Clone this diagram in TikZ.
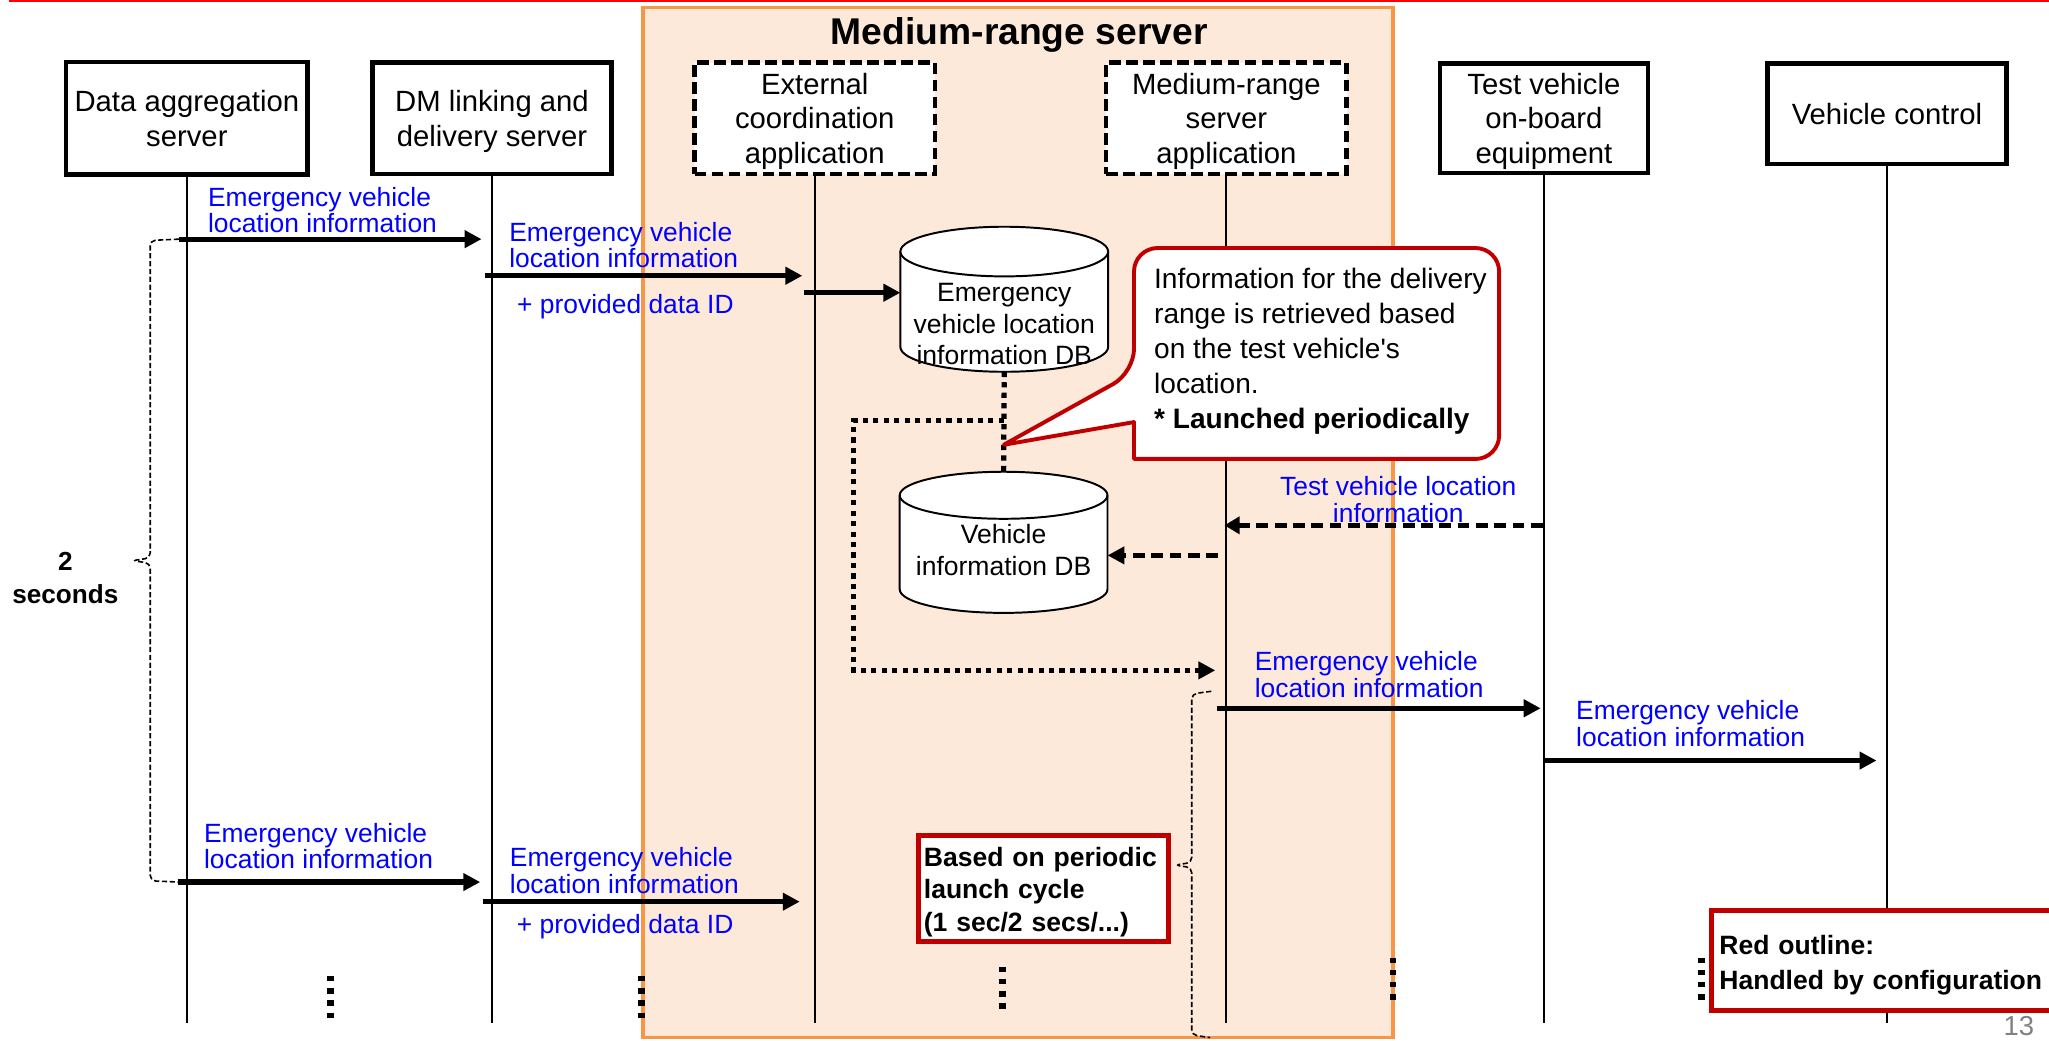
\documentclass[tikz,border=0pt]{standalone}
\usepackage{fontspec}
\setmainfont{Liberation Sans}[Ligatures=TeXOff]
\usepackage{xcolor}
\usepackage{tikz}
\usetikzlibrary{shapes,arrows.meta,positioning,calc}

\definecolor{srvorange}{HTML}{F79646}
\definecolor{srvfill}{HTML}{FDE9D9}
\definecolor{cfgred}{HTML}{C00000}

\begin{document}
\begin{tikzpicture}[
    x=1pt, y=-1pt,
    box/.style={rectangle, draw, line width=3.5pt, fill=white, align=center, text depth=0pt, font={\fontsize{22.4}{26.5}\selectfont}},
    appbox/.style={box, dash pattern=on 9pt off 4pt},
    db/.style={rectangle, inner sep=0pt, outer sep=0pt, minimum width=159pt, minimum height=111pt},
    dbline/.style={draw, line width=1.5pt},
    dbtext/.style={align=center, inner sep=0pt, font={\fontsize{20.3}{24}\selectfont}},
    life/.style={line width=1.4pt},
    msg/.style={-{Triangle[length=13pt, width=13pt]}, line width=4pt},
    dashmsg/.style={msg, dash pattern=on 9pt off 5pt},
    dotmsg/.style={msg, dash pattern=on 4pt off 4pt},
    lbl/.style={text=blue, align=left, inner sep=0pt, font={\fontsize{20.2}{20.5}\selectfont}},
    cfgbox/.style={rectangle, draw=cfgred, line width=3.5pt, fill=white, align=left, font={\fontsize{20.3}{25}\selectfont\bfseries}},
    brace/.style={line width=1.2pt, dash pattern=on 4pt off 2pt, rounded corners=4pt},
    vdots/.style={line width=5pt, dash pattern=on 4pt off 5.3pt}
]
\useasboundingbox (0,0) rectangle (1568,796);
\draw[red, line width=1.5pt] (7,1) -- (1568,1);

% Medium-range server
\draw[srvorange, fill=srvfill, line width=2.5pt] (492,6) rectangle (1066,794);
\node[font={\fontsize{28.5}{30}\selectfont\bfseries}] (srvtitle) at (780,26.5) {Medium-range server};

% Participants
\node[box, minimum width=185pt, minimum height=86pt] (dagg) at (143,90.5) {Data aggregation\\server};
\node[box, minimum width=183pt, minimum height=85pt, right=46pt of dagg] (dmlink) {DM linking and\\delivery server};
\node[appbox, minimum width=184pt, minimum height=85pt, right=60pt of dmlink] (extapp) {External\\coordination\\application};
\node[appbox, minimum width=184pt, minimum height=85pt, right=127.5pt of extapp] (mrapp) {Medium-range\\server\\application};
\node[box, minimum width=159pt, minimum height=84pt, right=68pt of mrapp] (testveh) {Test vehicle\\on-board\\equipment};
\node[box, minimum width=183pt, minimum height=77pt, right=88pt of testveh, yshift=3.5pt] (vctrl) {Vehicle control};

% Lifelines
\coordinate (lend) at (0,783);
\foreach \n in {dagg,dmlink,extapp,mrapp,testveh,vctrl}
  \draw[life] (\n.south) -- (\n.south |- lend);

% Databases
\node[db] (evdb) at (768.5,229) {};
\node[db, minimum height=108pt] (vidb) at (768,415) {};
\foreach \d/\r in {evdb/19, vidb/18} {
  \draw[dbline, fill=white] ([yshift=-\r]\d.north west) -- ([yshift=\r]\d.south west)
    arc[start angle=180, end angle=360, x radius=79.5pt, y radius=\r*1pt]
    -- ([yshift=-\r]\d.north east)
    arc[start angle=0, end angle=180, x radius=79.5pt, y radius=\r*1pt] -- cycle;
  \draw[dbline] ([yshift=-\r]\d.north west) arc[start angle=180, end angle=360, x radius=79.5pt, y radius=\r*1pt];
}
\node[dbtext] (evdbtext) at (768.5,248) {Emergency\\vehicle location\\information DB};
\node[dbtext] (vidbtext) at (768,421) {Vehicle\\information DB};

\coordinate (dbfork) at ($(evdb.south)!0.49!(vidb.north)$);
\coordinate (notetip) at ($(evdb.south)!0.73!(vidb.north)$);
\coordinate (dotcorner) at (653,513);
\draw[line width=4pt, dash pattern=on 4pt off 4pt] (evdb.south) -- (vidb.north);
\draw[dotmsg] (dbfork) -| (dotcorner) -- ([xshift=-8.5pt]mrapp.south |- dotcorner);

% Callout
\node[minimum width=279pt, minimum height=161pt, inner sep=0pt] (note) at (1007.5,270.5) {};
\draw[cfgred, line width=3pt, fill=white, line join=round]
  (notetip) -- (note.west |- 0,323) -- (note.south west)
  [rounded corners=18pt] -- (note.south east) -- (note.north east) -- (note.north west) -- (note.west |- 0,285)
  [sharp corners] -- cycle;
\node[anchor=west, align=left, inner sep=0pt, font={\fontsize{21.5}{26.85}\selectfont}] (notetext) at (883,269)
  {Information for the delivery\\range is retrieved based\\on the test vehicle's\\location.\\\textbf{* Launched periodically}};

% First round
\draw[msg] ([xshift=-6pt]dagg.south |- 0,183) -- ([xshift=-8pt]dmlink.south |- 0,183);
\node[lbl, anchor=west] (evloc1) at (159,160.7) {Emergency vehicle\\location information};
\draw[msg] ([xshift=-5pt]dmlink.south |- 0,211) -- ([xshift=-9.5pt]extapp.south |- 0,211);
\node[lbl, anchor=west] (evloc2) at (389.5,187.5) {Emergency vehicle\\location information};
\node[lbl, anchor=west] (dataid1) at (395.6,234.5) {+ provided data ID};
\draw[msg] ([xshift=-8.5pt]extapp.south |- 0,224) -- (evdb.west |- 0,224);

\draw[dashmsg, -{Triangle[length=11.6pt, width=13pt]}] ([xshift=-1pt]testveh.south |- 0,402) -- ([xshift=-1.5pt]mrapp.south |- 0,402);
\node[lbl, align=center] (tvloc) at (1070,382) {Test vehicle location\\information};
\draw[dashmsg] ([xshift=-6.5pt]mrapp.south |- 0,425) -- (vidb.east |- 0,425);

\draw[msg] ([xshift=-7.5pt]mrapp.south |- 0,542) -- ([xshift=-2.5pt]testveh.south |- 0,542);
\node[lbl, anchor=west] (evloc3) at (960,516) {Emergency vehicle\\location information};
\draw[msg] ([xshift=-1pt]testveh.south |- 0,582) -- ([xshift=-8pt]vctrl.south |- 0,582);
\node[lbl, anchor=west] (evloc4) at (1206,553.5) {Emergency vehicle\\location information};

% Next round
\draw[msg] ([xshift=-7pt]dagg.south |- 0,675) -- ([xshift=-9pt]dmlink.south |- 0,675);
\node[lbl, anchor=west] (evloc5) at (156,647.5) {Emergency vehicle\\location information};
\draw[msg] ([xshift=-7pt]dmlink.south |- 0,690) -- ([xshift=-11.5pt]extapp.south |- 0,690);
\node[lbl, anchor=west] (evloc6) at (390,666) {Emergency vehicle\\location information};
\node[lbl, anchor=west] (dataid2) at (395.4,709) {+ provided data ID};

% Periods
\draw[brace] (137,183) -- (115,184) -- (115,427) -- (101,429) -- (115,431) -- (115,674) -- (137,675);
\node[align=center, font={\fontsize{20}{25}\selectfont\bfseries}] (period) at (50,442.5) {2\\seconds};
\draw[brace] (927,529) -- (912,531) -- (912,660) -- (899,662) -- (912,664) -- (912,792) -- (926,794);
\node[cfgbox, minimum width=191.5pt, minimum height=74.5pt, text width=183pt] (launchbox) at (798.5,680) {\rule{0pt}{20pt}Based on periodic\\launch cycle\\(1 sec/2 secs/...)};

\foreach \x/\y in {253/747, 491/747, 767/740, 1066/733, 1302/733}
  \draw[vdots] (\x,\y) -- +(0,32);

% Legend
\node[cfgbox, anchor=north west, minimum height=76.5pt, text width=262pt, inner xsep=6pt, font={\fontsize{20.3}{27}\selectfont\bfseries}] (cfgnote) at (1308,695) {\rule{0pt}{22pt}Red outline:\\Handled by configuration};
\node[text=gray, font={\fontsize{21}{21}\selectfont}] (pagenum) at (1545,785) {13};
\end{tikzpicture}
\end{document}
